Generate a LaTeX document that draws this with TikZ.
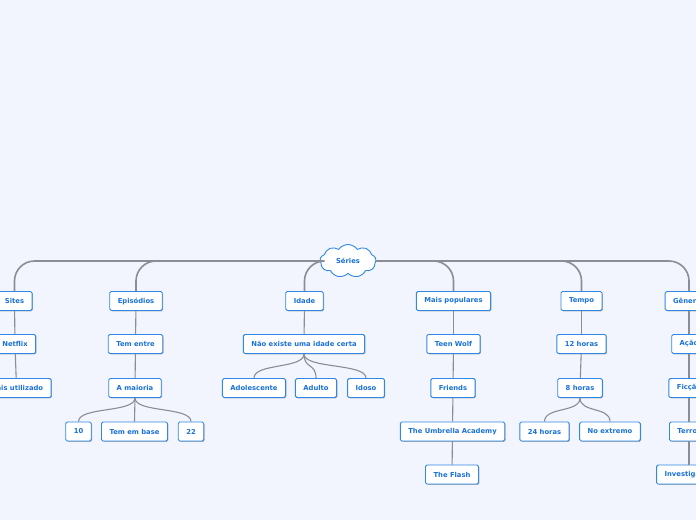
\documentclass[tikz,border=0pt]{standalone}
\usepackage{fontspec}
\setsansfont{DejaVu Sans}
\usepackage{xcolor}
\usetikzlibrary{shapes.symbols, shadows, positioning, calc}

\definecolor{bgcol}{RGB}{242,245,253}
\definecolor{boxblue}{RGB}{46,136,230}
\definecolor{txtblue}{RGB}{26,114,214}
\definecolor{linegray}{RGB}{140,140,150}

\tikzset{
    topic/.style={draw=boxblue, fill=white, line width=0.9pt, rounded corners=1.5pt,
        font=\sffamily\bfseries\fontsize{6.8}{8}\selectfont, text=txtblue,
        minimum height=19pt, inner xsep=8pt,
        drop shadow={shadow xshift=0.8pt, shadow yshift=-0.8pt, opacity=0.3, fill=black}},
    rootcloud/.style={cloud, cloud puffs=9, cloud puff arc=110, aspect=1.7,
        draw=boxblue, fill=white, line width=0.9pt, minimum width=56pt, minimum height=33pt,
        inner sep=0pt, font=\sffamily\bfseries\fontsize{6.8}{8}\selectfont, text=txtblue},
    trunk/.style={draw=linegray, line width=1.6pt, rounded corners=20pt},
    branch/.style={draw=linegray, line width=1.1pt}
}

\begin{document}
\begin{tikzpicture}[x=1pt, y=-1pt]

    \useasboundingbox (0,0) rectangle (696,520);
    \fill[bgcol] (0,0) rectangle (696,520);

    % Central topic
    \node[rootcloud] (series) at (348,261) {Séries};

    % Sites branch
    \node[topic] (sites) at (14.5,301) {Sites};
    \node[topic] (netflix) at (15,344) {Netflix};
    \node[topic] (maisutil) at (16.5,388) {Mais utilizado};
    \draw[trunk] (series.west) -| (sites.north);
    \draw[branch] (sites) -- (netflix);
    \draw[branch] (netflix) -- (maisutil);

    % Episodios branch
    \node[topic] (episodios) at (136,301) {Episódios};
    \node[topic] (tementre) at (135.5,344) {Tem entre};
    \node[topic] (maioria) at (135,388) {A maioria};
    \node[topic] (dez) at (78.5,431.5) {10};
    \node[topic] (embase) at (134.5,431.5) {Tem em base};
    \node[topic] (vintedois) at (191,431.5) {22};
    \draw[trunk] (series.west) -| (episodios.north);
    \draw[branch] (episodios) -- (tementre);
    \draw[branch] (tementre) -- (maioria);
    % split below A maioria
    \draw[branch] (maioria.south) .. controls +(0,15) and +(0,-15) .. (dez.north);
    \draw[branch] (maioria.south) -- (embase.north);
    \draw[branch] (maioria.south) .. controls +(0,15) and +(0,-15) .. (vintedois.north);

    % Idade branch
    \node[topic] (idade) at (304.5,301) {Idade};
    \node[topic] (semidade) at (304,344) {Não existe uma idade certa};
    \node[topic] (adolescente) at (254,388) {Adolescente};
    \node[topic] (adulto) at (316,388) {Adulto};
    \node[topic] (idoso) at (366,388) {Idoso};
    \draw[trunk] (series.west) -| (idade.north);
    \draw[branch] (idade) -- (semidade);
    \draw[branch] (semidade.south) .. controls +(0,15) and +(0,-15) .. (adolescente.north);
    \draw[branch] (semidade.south) .. controls +(0,15) and +(0,-15) .. (adulto.north);
    \draw[branch] (semidade.south) .. controls +(0,15) and +(0,-15) .. (idoso.north);

    % Mais populares branch
    \node[topic] (populares) at (453.5,301) {Mais populares};
    \node[topic] (teenwolf) at (453.5,344) {Teen Wolf};
    \node[topic] (friends) at (453,388) {Friends};
    \node[topic] (umbrella) at (452.5,431.5) {The Umbrella Academy};
    \node[topic] (flash) at (452,474.5) {The Flash};
    \draw[trunk] (series.east) -| (populares.north);
    \draw[branch] (populares) -- (teenwolf);
    \draw[branch] (teenwolf) -- (friends);
    \draw[branch] (friends) -- (umbrella);
    \draw[branch] (umbrella) -- (flash);

    % Tempo branch
    \node[topic] (tempo) at (581.5,301) {Tempo};
    \node[topic] (dozeh) at (581.5,344) {12 horas};
    \node[topic] (oitoh) at (580,388) {8 horas};
    \node[topic] (vintequatroh) at (544.5,431.5) {24 horas};
    \node[topic] (extremo) at (610,431.5) {No extremo};
    \draw[trunk] (series.east) -| (tempo.north);
    \draw[branch] (tempo) -- (dozeh);
    \draw[branch] (dozeh) -- (oitoh);
    \draw[branch] (oitoh.south) .. controls +(0,15) and +(0,-15) .. (vintequatroh.north);
    \draw[branch] (oitoh.south) .. controls +(0,15) and +(0,-15) .. (extremo.north);

    % Generos branch
    \node[topic] (generos) at (689,301) {Gêneros};
    \node[topic] (acao) at (689,344) {Ação};
    \node[topic] (ficcao) at (689,388) {Ficção};
    \node[topic] (terror) at (689,431.5) {Terror};
    \node[topic] (investigacao) at (689,474.5) {Investigação};
    \draw[trunk] (series.east) -| (generos.north);
    \draw[branch] (generos) -- (acao);
    \draw[branch] (acao) -- (ficcao);
    \draw[branch] (ficcao) -- (terror);
    \draw[branch] (terror) -- (investigacao);

\end{tikzpicture}
\end{document}
